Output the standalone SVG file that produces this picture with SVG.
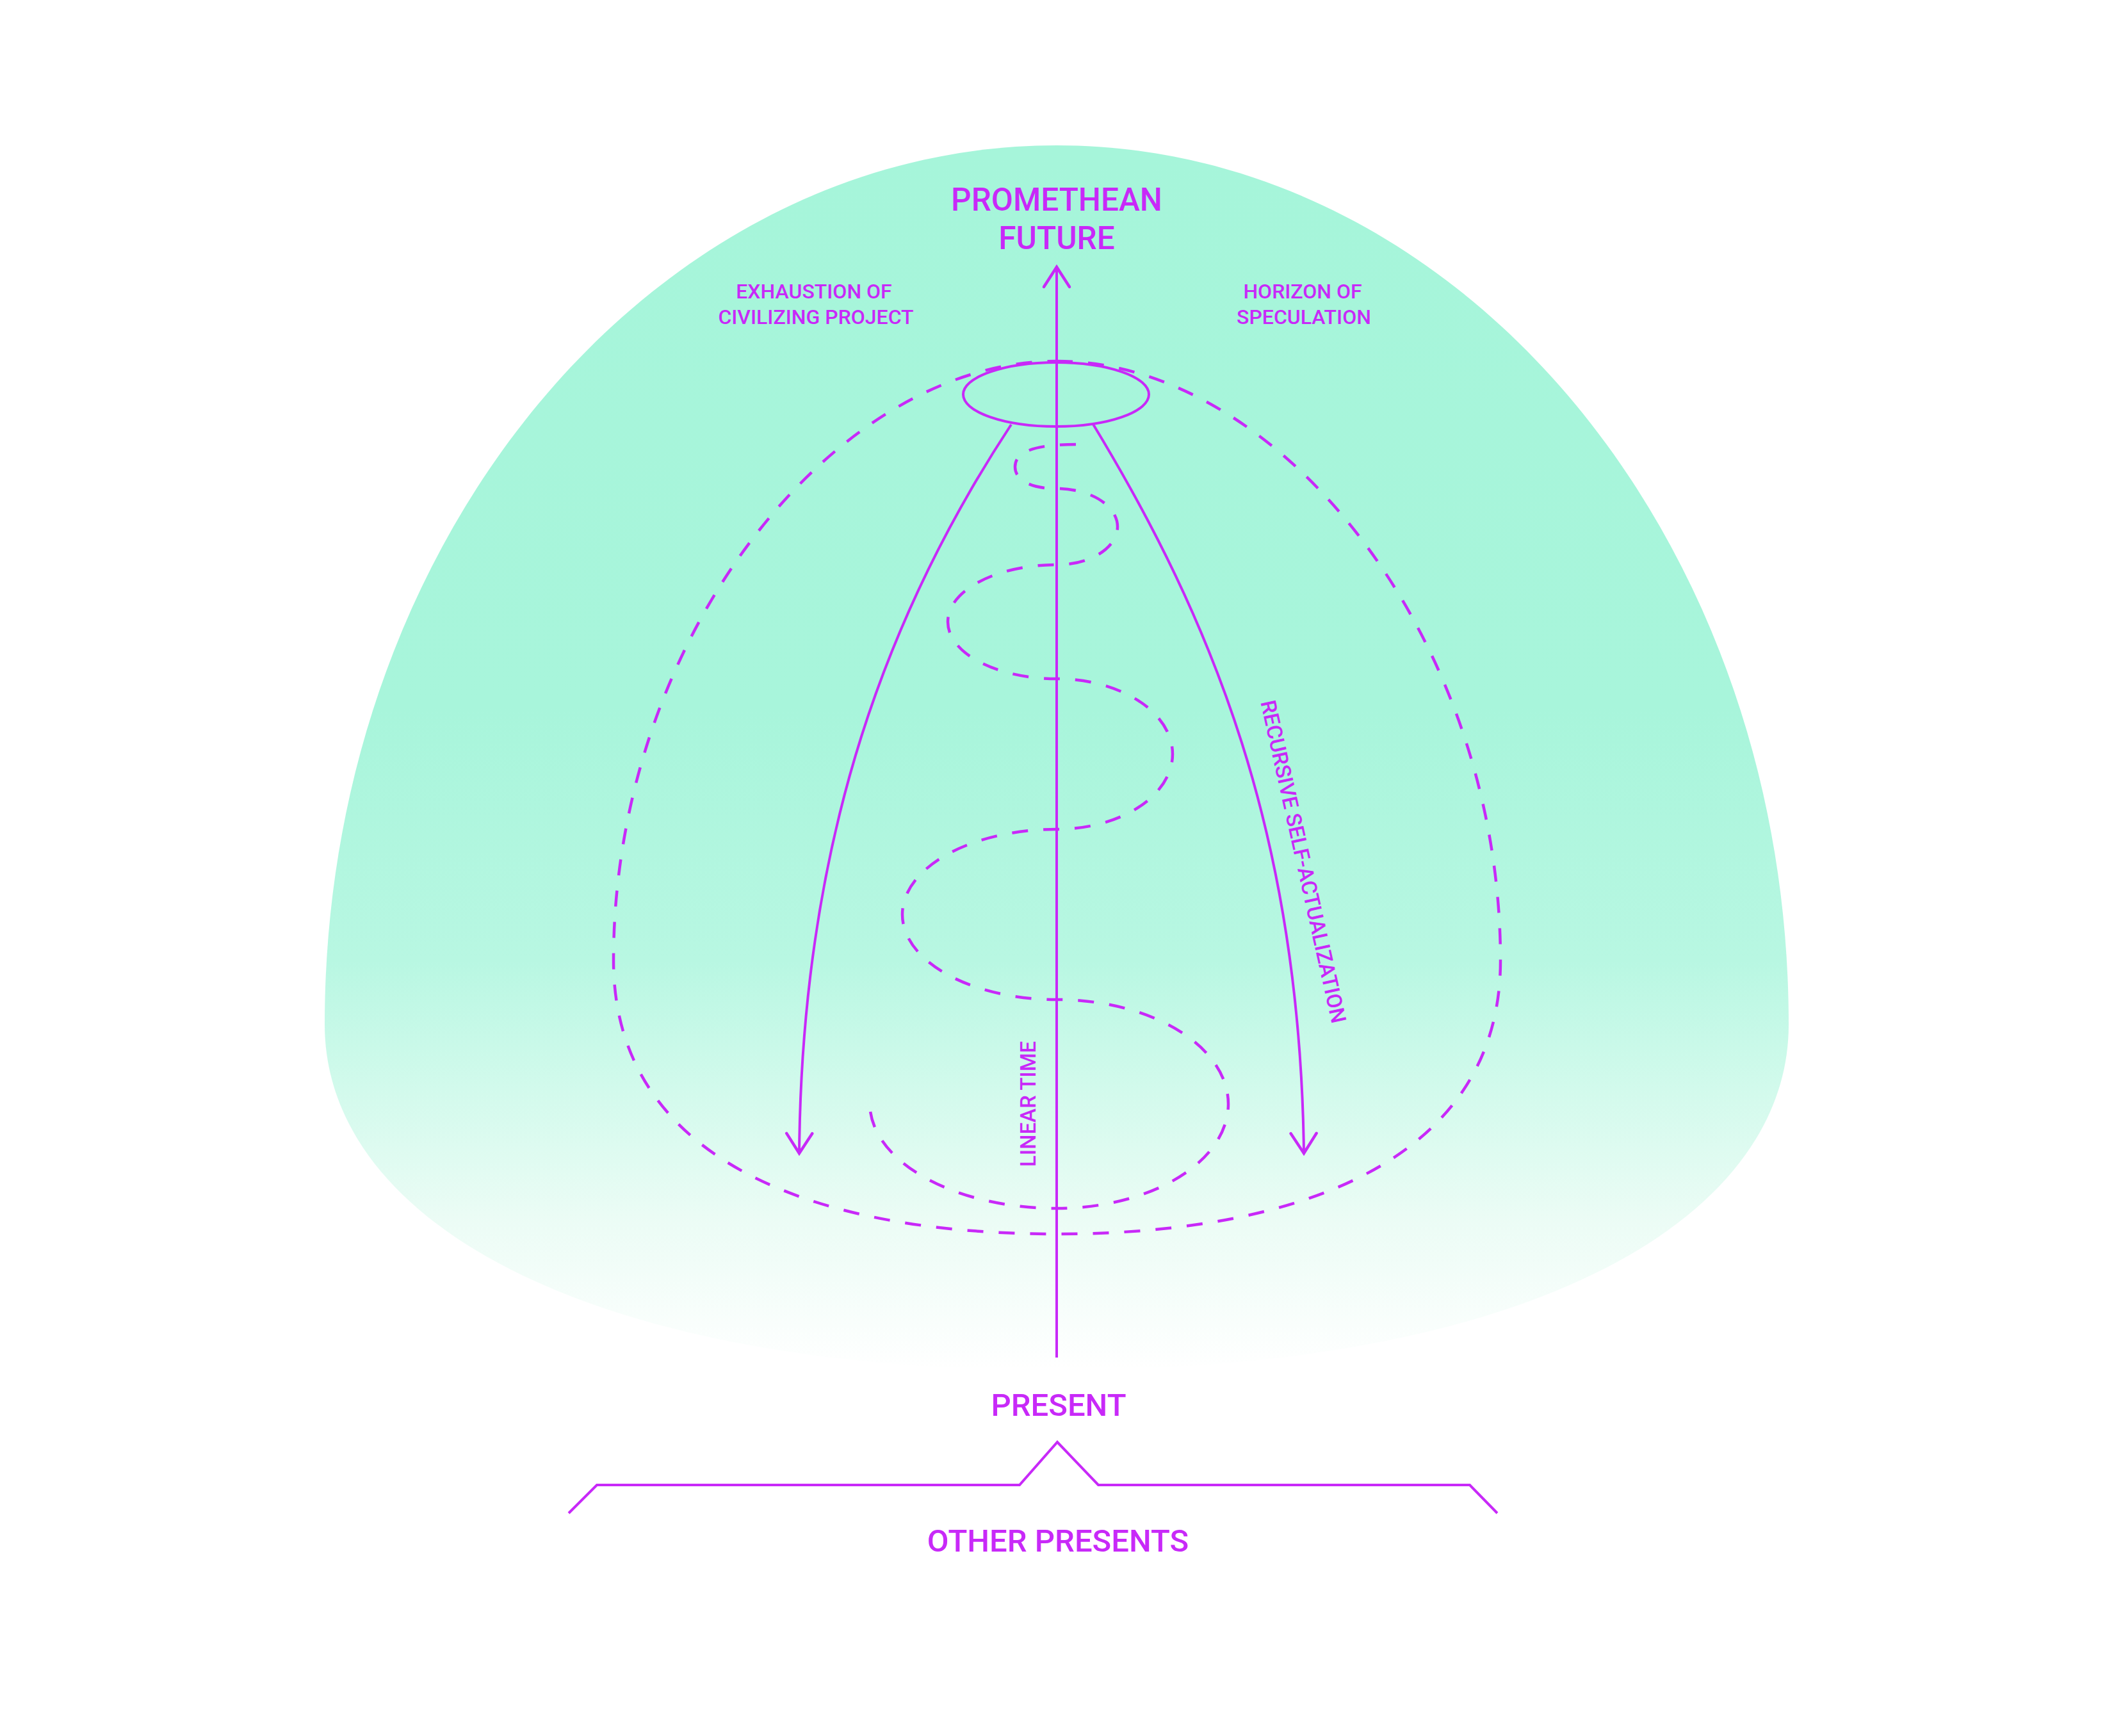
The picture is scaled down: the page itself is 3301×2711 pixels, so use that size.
<svg xmlns="http://www.w3.org/2000/svg" width="3301" height="2711" viewBox="0 0 3301 2711">
  <style>
    .ln { fill: none; stroke: #C829F8; stroke-width: 4; }
    .dash { fill: none; stroke: #C829F8; stroke-width: 4.5; stroke-dasharray: 25 24; }
    .t { fill: #C829F8; font-family: Roboto, "Liberation Sans", sans-serif; font-weight: 500; text-anchor: middle; }
    .big { font-size: 49.5px; }
    .sm { font-size: 32px; }
  </style>
  <defs>
    <linearGradient id="bg" gradientUnits="userSpaceOnUse" x1="0" y1="227" x2="0" y2="2140">
      <stop offset="0" stop-color="#A6F5DA"/>
      <stop offset="0.46" stop-color="#A8F5DB"/>
      <stop offset="0.665" stop-color="#B8F7E2"/>
      <stop offset="0.77" stop-color="#D2FAEC"/>
      <stop offset="0.875" stop-color="#EBFCF5"/>
      <stop offset="1" stop-color="#FFFFFF"/>
    </linearGradient>
    <marker id="head" markerUnits="userSpaceOnUse" markerWidth="80" markerHeight="80" refX="0" refY="0" orient="auto" overflow="visible">
      <path d="M -31 -20 L 0 0 L -31 20" fill="none" stroke="#C829F8" stroke-width="4.5" stroke-linecap="round" stroke-linejoin="miter"/>
    </marker>
  </defs>
  <rect width="3301" height="2711" fill="#FFFFFF"/>
  <g id="blob">
    <path d="M 1650 227 C 2281 227, 2793 842, 2793 1600 C 2793 1900, 2400 2140, 1650 2140 C 900 2140, 507 1900, 507 1600 C 507 842, 1019 227, 1650 227 Z" fill="url(#bg)"/>
  </g>
  <g id="horizon">
    <path class="dash" d="M 1650 564 C 2000 564, 2343 1000, 2343 1500 C 2343 1800, 2050 1927, 1650 1927 C 1250 1927, 958 1800, 958 1500 C 958 1000, 1300 564, 1650 564 Z"/>
  </g>
  <g id="spiral">
    <path class="dash" d="M 1680 694 C 1600 694, 1585 712, 1585 729 C 1585 750, 1610 763, 1650 763 A 95 59.5 0 0 1 1650 882 A 170 89 0 0 0 1650 1060 A 181 117.5 0 0 1 1650 1295 A 241 133 0 0 0 1650 1561 A 268 163 0 0 1 1650 1887 A 292 165 0 0 1 1358 1722"/>
  </g>
  <g id="connectors">
    <path class="ln" d="M 1579 663 C 1392 947, 1252 1300, 1248 1801" marker-end="url(#head)"/>
    <path class="ln" d="M 1706 661 C 1893 969, 2030 1302, 2036 1801" marker-end="url(#head)"/>
    <line class="ln" x1="1650" y1="2120" x2="1650" y2="417" stroke-width="4.5" marker-end="url(#head)"/>
    <polyline class="ln" points="888,2363 932,2319 1592,2319 1651,2252 1715,2319 2295,2319 2338,2363"/>
  </g>
  <g id="future-ring">
    <ellipse class="ln" cx="1649" cy="616" rx="145" ry="50"/>
  </g>
  <g id="labels">
    <text class="t big" x="1650" y="329">PROMETHEAN</text>
    <text class="t big" x="1650" y="389">FUTURE</text>
    <text class="t sm" x="1271" y="466">EXHAUSTION OF</text>
    <text class="t sm" x="1274" y="506">CIVILIZING PROJECT</text>
    <text class="t sm" x="2034" y="466">HORIZON OF</text>
    <text class="t sm" x="2036" y="506">SPECULATION</text>
    <text class="t" font-size="33" transform="translate(1617 1724) rotate(-90)">LINEAR TIME</text>
    <text class="t" font-size="33" transform="translate(2024 1348) rotate(77.5)">RECURSIVE SELF-ACTUALIZATION</text>
    <text class="t" font-size="49" x="1653" y="2211">PRESENT</text>
    <text class="t" font-size="49" x="1652" y="2423">OTHER PRESENTS</text>
  </g>
</svg>
